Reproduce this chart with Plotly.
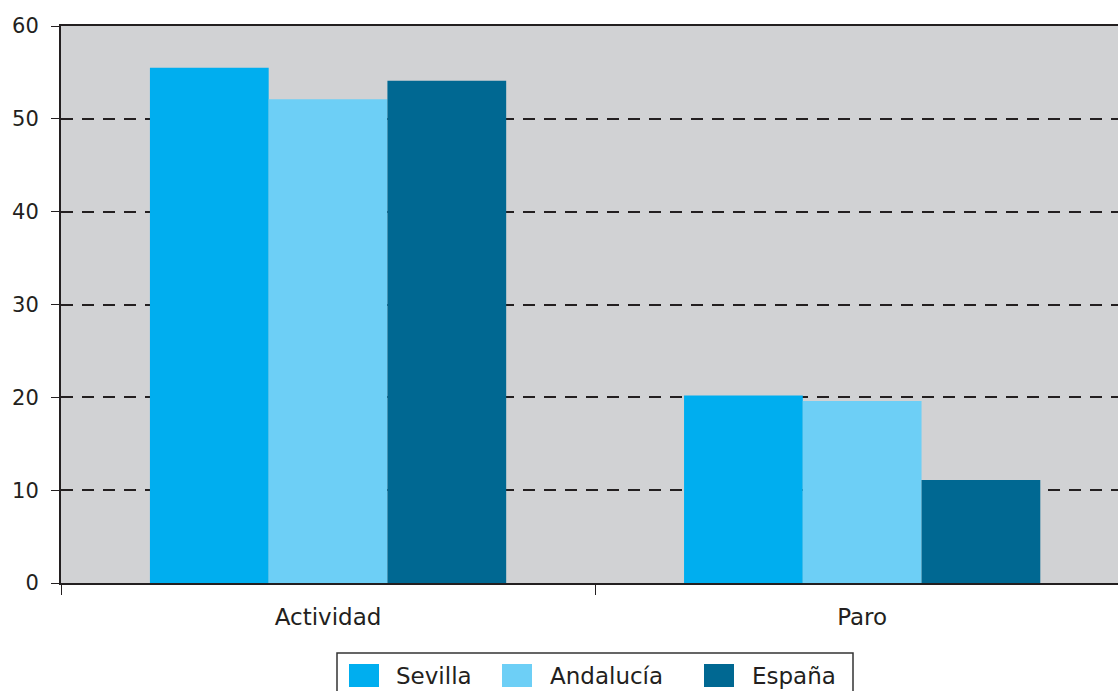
import plotly.graph_objects as go

categories = ["Actividad", "Paro"]
series_names = ["Sevilla", "Andalucía", "España"]
sevilla = [55.5, 20.2]
andalucia = [52.1, 19.6]
espana = [54.1, 11.1]
y_ticks = [0, 10, 20, 30, 40, 50, 60]

colors = ["#00AEEF", "#6DCFF6", "#006892"]
FONT = "DejaVu Sans"
TXT = "#231F20"

L, R, T, B = 61, 0, 26, 108
W, H = 1118, 691
PW, PH = W - L - R, H - T - B

def px(x):
    return (x - L) / PW

def py(y):
    return (H - B - y) / PH

fig = go.Figure()
for name, vals, col in zip(series_names, [sevilla, andalucia, espana], colors):
    fig.add_trace(go.Bar(x=categories, y=vals, name=name, marker=dict(color=col, line=dict(width=0))))

# custom legend (large swatches like the reference)
shapes = [dict(type="rect", xref="paper", yref="paper", x0=px(337), x1=px(853), y0=py(700), y1=py(653),
               line=dict(color="#333333", width=1.5), fillcolor="white", layer="above")]
annotations = []
sw_x = [349, 502, 704]
tx_x = [394, 548, 750]
for name, col, sx, tx in zip(series_names, colors, sw_x, tx_x):
    shapes.append(dict(type="rect", xref="paper", yref="paper", x0=px(sx), x1=px(sx + 30),
                       y0=py(687), y1=py(664), line=dict(width=0), fillcolor=col, layer="above"))
    annotations.append(dict(text=name, xref="paper", yref="paper", x=px(tx), y=py(676),
                            xanchor="left", yanchor="middle", showarrow=False,
                            font=dict(size=23, family=FONT, color=TXT)))

fig.update_layout(
    width=W, height=H,
    margin=dict(l=L, r=R, t=T, b=B, autoexpand=False),
    paper_bgcolor="white", plot_bgcolor="#D1D2D4",
    barmode="group", bargap=0.333, bargroupgap=0,
    font=dict(family=FONT, size=21, color=TXT),
    showlegend=False,
    shapes=shapes, annotations=annotations,
)
fig.update_xaxes(range=[-0.5, 1.479], tickson="boundaries", ticks="outside", ticklen=10,
                 tickcolor=TXT, showline=True, linecolor=TXT, linewidth=2,
                 mirror=True, showgrid=False, tickfont=dict(size=23), ticklabelstandoff=12)
fig.update_yaxes(range=[0, 60], tickvals=y_ticks, ticks="outside", ticklen=8, tickcolor=TXT,
                 showline=True, linecolor=TXT, linewidth=2, showgrid=True,
                 gridcolor=TXT, griddash="12px,9px", gridwidth=1.5, zeroline=False,
                 tickfont=dict(size=21), ticklabelstandoff=8)

fig.write_html("out.html", config={"displayModeBar": False},
               post_script="document.body.style.margin='0';document.body.style.padding='0';")
